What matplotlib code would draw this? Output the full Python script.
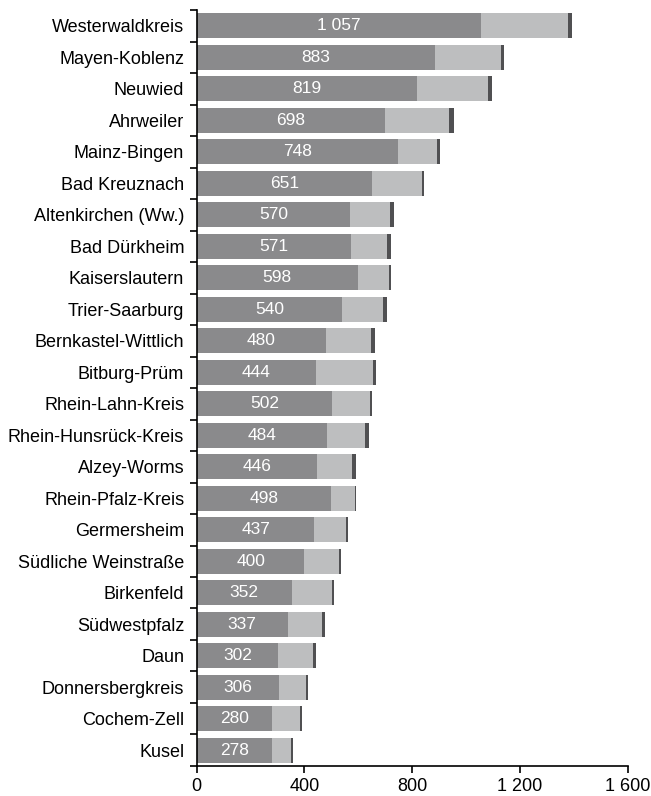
import matplotlib.pyplot as plt
from matplotlib.ticker import FuncFormatter, FixedLocator

plt.rcParams['font.family'] = ['Liberation Sans', 'DejaVu Sans']

# Districts, top to bottom
districts = [
    "Westerwaldkreis", "Mayen-Koblenz", "Neuwied", "Ahrweiler", "Mainz-Bingen",
    "Bad Kreuznach", "Altenkirchen (Ww.)", "Bad Dürkheim", "Kaiserslautern",
    "Trier-Saarburg", "Bernkastel-Wittlich", "Bitburg-Prüm", "Rhein-Lahn-Kreis",
    "Rhein-Hunsrück-Kreis", "Alzey-Worms", "Rhein-Pfalz-Kreis", "Germersheim",
    "Südliche Weinstraße", "Birkenfeld", "Südwestpfalz", "Daun",
    "Donnersbergkreis", "Cochem-Zell", "Kusel",
]
# first segment (labelled)
main_values = [1057, 883, 819, 698, 748, 651, 570, 571, 598, 540, 480, 444,
               502, 484, 446, 498, 437, 400, 352, 337, 302, 306, 280, 278]
# second segment (light grey)
second_values = [321, 246, 261, 237, 143, 184, 149, 137, 114, 150, 168, 212,
                 143, 142, 132, 88, 119, 130, 151, 129, 131, 101, 105, 73]
# thin third segment (dark), estimated
third_values = [15, 11, 15, 19, 14, 7, 12, 15, 11, 15, 15, 11,
                4, 15, 15, 7, 7, 7, 8, 11, 11, 7, 7, 8]

x_ticks = [0, 400, 800, 1200, 1600]

DARK = "#8a8a8c"
LIGHT = "#bdbebf"
TIP = "#505052"

fig = plt.figure(figsize=(6.51, 7.96), dpi=100)
ax = fig.add_axes([0.3022, 0.0377, 0.662, 0.9497])

y = list(range(len(districts)))
left2 = main_values
left3 = [a + b for a, b in zip(main_values, second_values)]

ax.barh(y, main_values, height=0.8, color=DARK, linewidth=0)
ax.barh(y, second_values, left=left2, height=0.8, color=LIGHT, linewidth=0)
ax.barh(y, third_values, left=left3, height=0.8, color=TIP, linewidth=0)


def fmt(v, pos=None):
    return f"{int(v):,}".replace(",", " ")


for yi, v in zip(y, main_values):
    ax.text(v / 2, yi, fmt(v), ha="center", va="center", color="white", fontsize=12.5)

ax.set_xlim(0, 1600)
ax.set_ylim(len(districts) - 0.5, -0.5)

ax.xaxis.set_major_locator(FixedLocator(x_ticks))
ax.xaxis.set_major_formatter(FuncFormatter(fmt))

# y labels at bar centres without tick marks, ticks at bar boundaries
ax.set_yticks(y)
ax.set_yticklabels(districts, fontsize=13)
ax.tick_params(axis="y", which="major", length=0, pad=9)
ax.set_yticks([i - 0.5 for i in range(len(districts) + 1)], minor=True)
ax.tick_params(axis="y", which="minor", length=5, width=1.2, direction="out")
ax.tick_params(axis="x", length=5, width=1.2, direction="out", labelsize=13, pad=4)

for side in ("top", "right"):
    ax.spines[side].set_visible(False)
for side in ("left", "bottom"):
    ax.spines[side].set_linewidth(1.2)

fig.savefig("out.png", dpi=100)
